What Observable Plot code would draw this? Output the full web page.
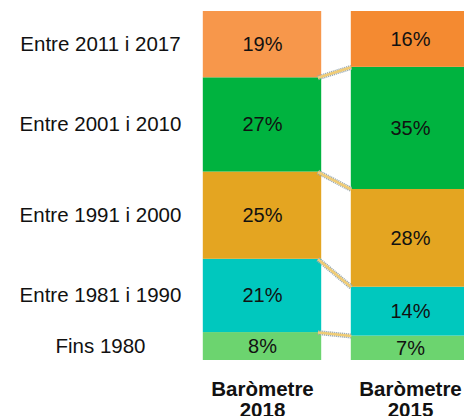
<!DOCTYPE html>
<html>
<head>
<meta charset="utf-8">
<script src="https://cdn.jsdelivr.net/npm/d3@7"></script>
<script src="https://cdn.jsdelivr.net/npm/@observablehq/plot@0.6"></script>
<style>
  html, body { margin: 0; padding: 0; background: #fff; overflow: hidden; }
  #chart { width: 464px; height: 416px; }
</style>
</head>
<body>
<div id="chart"></div>
<script>
// ---- data ----
const years = ["2018", "2015"];
const categories = ["Fins 1980", "Entre 1981 i 1990", "Entre 1991 i 2000", "Entre 2001 i 2010", "Entre 2011 i 2017"];
const values2018 = [8, 21, 25, 27, 19];
const values2015 = [7, 14, 28, 35, 16];
// palettes (bottom to top)
const palette2018 = ["#6cd46f", "#00c8be", "#e4a521", "#00b33f", "#f7974b"];
const palette2015 = ["#6cd46f", "#00c8be", "#e4a521", "#00b33f", "#f48a31"];

const barFrac = 0.8, half = barFrac / 2;

function buildRows(values, idx, palette) {
  let acc = 0;
  return values.map((v, k) => {
    const y1 = acc; acc += v;
    return {idx, category: categories[k], value: v, y1, y2: acc, color: palette[k]};
  });
}
const rows2018 = buildRows(values2018, 0, palette2018);
const rows2015 = buildRows(values2015, 1, palette2015);
const rows = rows2018.concat(rows2015);
const links = rows2018.slice(0, -1).map((d, k) => ({a: d.y2, b: rows2015[k].y2}));
const mid = d => (d.y1 + d.y2) / 2;

const plot = Plot.plot({
  width: 464,
  height: 416,
  marginTop: 11,
  marginBottom: 56,
  marginLeft: 0,
  marginRight: 0,
  style: {fontFamily: "'Liberation Sans', Arial, sans-serif", fontSize: "20px", background: "#fff", color: "#000"},
  x: {domain: [0, 1], range: [262, 410]},
  y: {domain: [0, 100], axis: null},
  marks: [
    Plot.rect(rows, {x1: d => d.idx - half, x2: d => d.idx + half, y1: "y1", y2: "y2", fill: "color", clip: true}),
    Plot.link(links, {x1: () => 0 + half - 0.025, x2: () => 1 - half, y1: "a", y2: "b", stroke: "#98a8b0", strokeWidth: 5, strokeDasharray: "1.2,0.8"}),
    Plot.link(links, {x1: () => 0 + half - 0.025, x2: () => 1 - half, y1: "a", y2: "b", stroke: "#f0cc76", strokeWidth: 2.6}),
    Plot.text(rows, {x: "idx", y: mid, text: d => d.value + "%", fontSize: 20, fill: "#111"}),
    Plot.text(rows2018, {x: "idx", y: mid, text: "category", dx: -162, fontSize: 20.5, fill: "#111"}),
    Plot.axisX({ticks: [0, 1], tickFormat: i => "Baròmetre\n" + years[i], tickSize: 0, tickPadding: 20, fontSize: 20.5, fontWeight: "bold", lineAnchor: "top", lineHeight: 1.05, label: null, fill: "#111"})
  ]
});
document.getElementById("chart").appendChild(plot);
</script>
</body>
</html>
